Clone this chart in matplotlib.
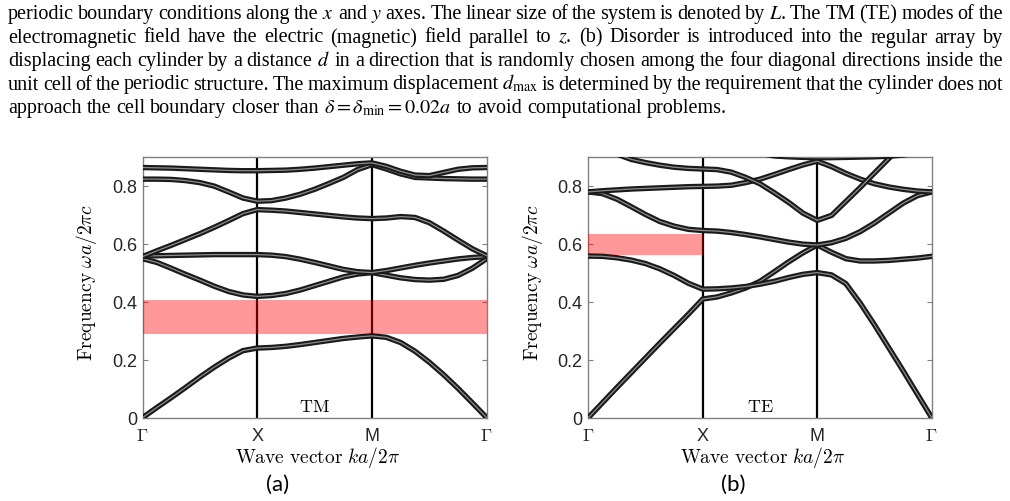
import numpy as np
import matplotlib
matplotlib.use('Agg')
import matplotlib.pyplot as plt
import matplotlib.patheffects as pe

# tick positions / labels along the path Gamma-X-M-Gamma
k_ticks = [0, 1, 2, 3]
k_labels = [r'$\Gamma$', 'X', 'M', r'$\Gamma$']
f_ticks = [0, 0.2, 0.4, 0.6, 0.8]
f_labels = ['0', '0.2', '0.4', '0.6', '0.8']

# band frequencies (wa/2pi c), 9 nodes per segment, shared corners -> 25 values
tm_b1 = [0.000, 0.035, 0.069, 0.104, 0.140, 0.174, 0.205, 0.231, 0.240,
         0.242, 0.246, 0.252, 0.259, 0.266, 0.273, 0.278, 0.282,
         0.277, 0.259, 0.229, 0.191, 0.148, 0.101, 0.051, 0.000]
tm_b2 = [0.548, 0.535, 0.515, 0.494, 0.474, 0.453, 0.435, 0.423, 0.418,
         0.421, 0.428, 0.440, 0.455, 0.470, 0.485, 0.495, 0.500,
         0.491, 0.482, 0.476, 0.474, 0.477, 0.490, 0.515, 0.548]
tm_b3 = [0.557, 0.558, 0.559, 0.560, 0.561, 0.562, 0.562, 0.562, 0.562,
         0.560, 0.555, 0.546, 0.535, 0.523, 0.511, 0.503, 0.500,
         0.507, 0.516, 0.525, 0.533, 0.540, 0.547, 0.552, 0.555]
tm_b4 = [0.555, 0.575, 0.594, 0.614, 0.634, 0.656, 0.679, 0.703, 0.717,
         0.715, 0.712, 0.707, 0.702, 0.697, 0.692, 0.688, 0.686,
         0.688, 0.693, 0.690, 0.672, 0.643, 0.612, 0.582, 0.558]
tm_b5 = [0.822, 0.822, 0.821, 0.817, 0.810, 0.798, 0.778, 0.757, 0.746,
         0.748, 0.757, 0.770, 0.787, 0.807, 0.828, 0.855, 0.872,
         0.857, 0.840, 0.828, 0.826, 0.824, 0.823, 0.822, 0.822]
tm_b6 = [0.862, 0.861, 0.860, 0.858, 0.856, 0.854, 0.852, 0.851, 0.851,
         0.852, 0.853, 0.856, 0.860, 0.865, 0.870, 0.875, 0.878,
         0.866, 0.849, 0.836, 0.834, 0.845, 0.856, 0.861, 0.862]

te_b1 = [0.000, 0.052, 0.104, 0.155, 0.206, 0.257, 0.307, 0.357, 0.409,
         0.416, 0.430, 0.447, 0.470, 0.503, 0.537, 0.568, 0.595,
         0.570, 0.548, 0.540, 0.540, 0.542, 0.546, 0.550, 0.556]
te_b2 = [0.557, 0.556, 0.551, 0.543, 0.531, 0.513, 0.490, 0.463, 0.443,
         0.444, 0.447, 0.452, 0.460, 0.470, 0.483, 0.494, 0.500,
         0.492, 0.462, 0.395, 0.320, 0.241, 0.162, 0.081, 0.000]
te_b3 = [0.778, 0.772, 0.753, 0.727, 0.700, 0.676, 0.660, 0.649, 0.645,
         0.643, 0.638, 0.631, 0.623, 0.614, 0.605, 0.598, 0.595,
         0.603, 0.618, 0.641, 0.671, 0.705, 0.739, 0.765, 0.778]
te_b4 = [0.778, 0.782, 0.785, 0.788, 0.790, 0.792, 0.794, 0.796, 0.797,
         0.798, 0.801, 0.810, 0.822, 0.838, 0.855, 0.871, 0.884,
         0.865, 0.842, 0.822, 0.806, 0.795, 0.787, 0.781, 0.778]
te_b5 = [0.955, 0.930, 0.908, 0.890, 0.879, 0.870, 0.863, 0.859, 0.857,
         0.855, 0.846, 0.828, 0.806, 0.775, 0.742, 0.705, 0.680,
         0.697, 0.745, 0.793, 0.843, 0.893, 0.940, 0.985, 1.030]
te_b6 = [np.nan, np.nan, np.nan, np.nan, np.nan, np.nan, np.nan, np.nan, 0.940,
         0.932, 0.925, 0.918, 0.911, 0.902, 0.899, 0.897, 0.896,
         0.896, 0.897, 0.898, 0.899, 0.901, 0.905, 0.912, 0.920]

tm_bands = [tm_b1, tm_b2, tm_b3, tm_b4, tm_b5, tm_b6]
te_bands = [te_b1, te_b2, te_b3, te_b4, te_b5, te_b6]

tm_gap = (0.287, 0.405)
te_gap = (0.560, 0.634)
te_gap_k = [0, 1]

caption = [
    "periodic boundary conditions along the $x$ and $y$ axes. The linear size of the system is denoted by $L$. The TM (TE) modes of the",
    "electromagnetic field have the electric (magnetic) field parallel to $z$. (b) Disorder is introduced into the regular array by",
    "displacing each cylinder by a distance $d$ in a direction that is randomly chosen among the four diagonal directions inside the",
    "unit cell of the periodic structure. The maximum displacement $d_{\\max}$ is determined by the requirement that the cylinder does not",
    "approach the cell boundary closer than $\\delta=\\delta_{\\min}=0.02a$ to avoid computational problems.",
]

W, H = 1010, 502
fig = plt.figure(figsize=(W / 100, H / 100), dpi=100)
renderer = fig.canvas.get_renderer()

# justified caption text, word by word
left_px, right_px = 8, 1003
fs = 14.5
for i, line in enumerate(caption):
    y = 1 - (19 + 23.5 * i) / H
    words = line.split(' ')
    texts = [fig.text(0, y, w, fontsize=fs, family='Liberation Serif',
                      math_fontfamily='stix', va='baseline') for w in words]
    widths = [t.get_window_extent(renderer).width for t in texts]
    if i < len(caption) - 1:
        gap = (right_px - left_px - sum(widths)) / (len(words) - 1)
    else:
        gap = 0.25 * fs * 100 / 72
    x = left_px
    for t, w in zip(texts, widths):
        t.set_x(x / W)
        x += w + gap

k = np.linspace(0, 3, 25)


def panel(ax, bands, mode):
    ax.set_xlim(0, 3)
    ax.set_ylim(0, 0.9)
    for xv in (1, 2):
        ax.axvline(xv, color='black', lw=1.6, zorder=2)
    for b in bands:
        ax.plot(k, b, color='#8c8c8c', lw=0.9, zorder=4, solid_joinstyle='round',
                path_effects=[pe.Stroke(linewidth=3.9, foreground='#1a1a1a'), pe.Normal()])
    ax.set_xticks(k_ticks)
    ax.set_xticklabels(k_labels)
    ax.set_yticks(f_ticks)
    ax.set_yticklabels(f_labels)
    for lbl in ax.get_xticklabels() + ax.get_yticklabels():
        lbl.set_fontfamily('Liberation Sans')
        lbl.set_math_fontfamily('cm')
        lbl.set_fontsize(13)
        lbl.set_color('#262626')
    ax.tick_params(axis='y', direction='in', right=True, length=3.5, color='#808080', pad=4)
    ax.tick_params(axis='x', length=0, pad=7)
    for s in ax.spines.values():
        s.set_color('#808080')
        s.set_linewidth(1.0)
    ax.set_ylabel(r'$\mathrm{Frequency}\ \omega a/2\pi c$', fontsize=14, math_fontfamily='cm')
    ax.yaxis.set_label_coords(-0.125, 0.52)
    ax.set_xlabel(r'$\mathrm{Wave\ vector}\ ka/2\pi$', fontsize=14, math_fontfamily='cm')
    ax.xaxis.set_label_coords(0.508, -0.1)
    ax.text(1.5, 0.042, r'$\mathrm{%s}$' % mode, ha='center', va='center',
            fontsize=13, math_fontfamily='cm')


ax1 = fig.add_axes([142.5 / W, 1 - 418.7 / H, 344.2 / W, 261.2 / H])
panel(ax1, tm_bands, 'TM')
ax1.axhspan(tm_gap[0], tm_gap[1], color='red', alpha=0.4, lw=0, zorder=3)

ax2 = fig.add_axes([588.3 / W, 1 - 418.7 / H, 343.4 / W, 261.2 / H])
panel(ax2, te_bands, 'TE')
ax2.fill_between(te_gap_k, te_gap[0], te_gap[1], color='red', alpha=0.4, lw=0, zorder=3)

fig.text(278 / W, 1 - 485 / H, '(a)', ha='center', va='center', fontsize=16, family='Lato')
fig.text(733 / W, 1 - 485 / H, '(b)', ha='center', va='center', fontsize=16, family='Lato')

fig.savefig('out.png', dpi=100)
